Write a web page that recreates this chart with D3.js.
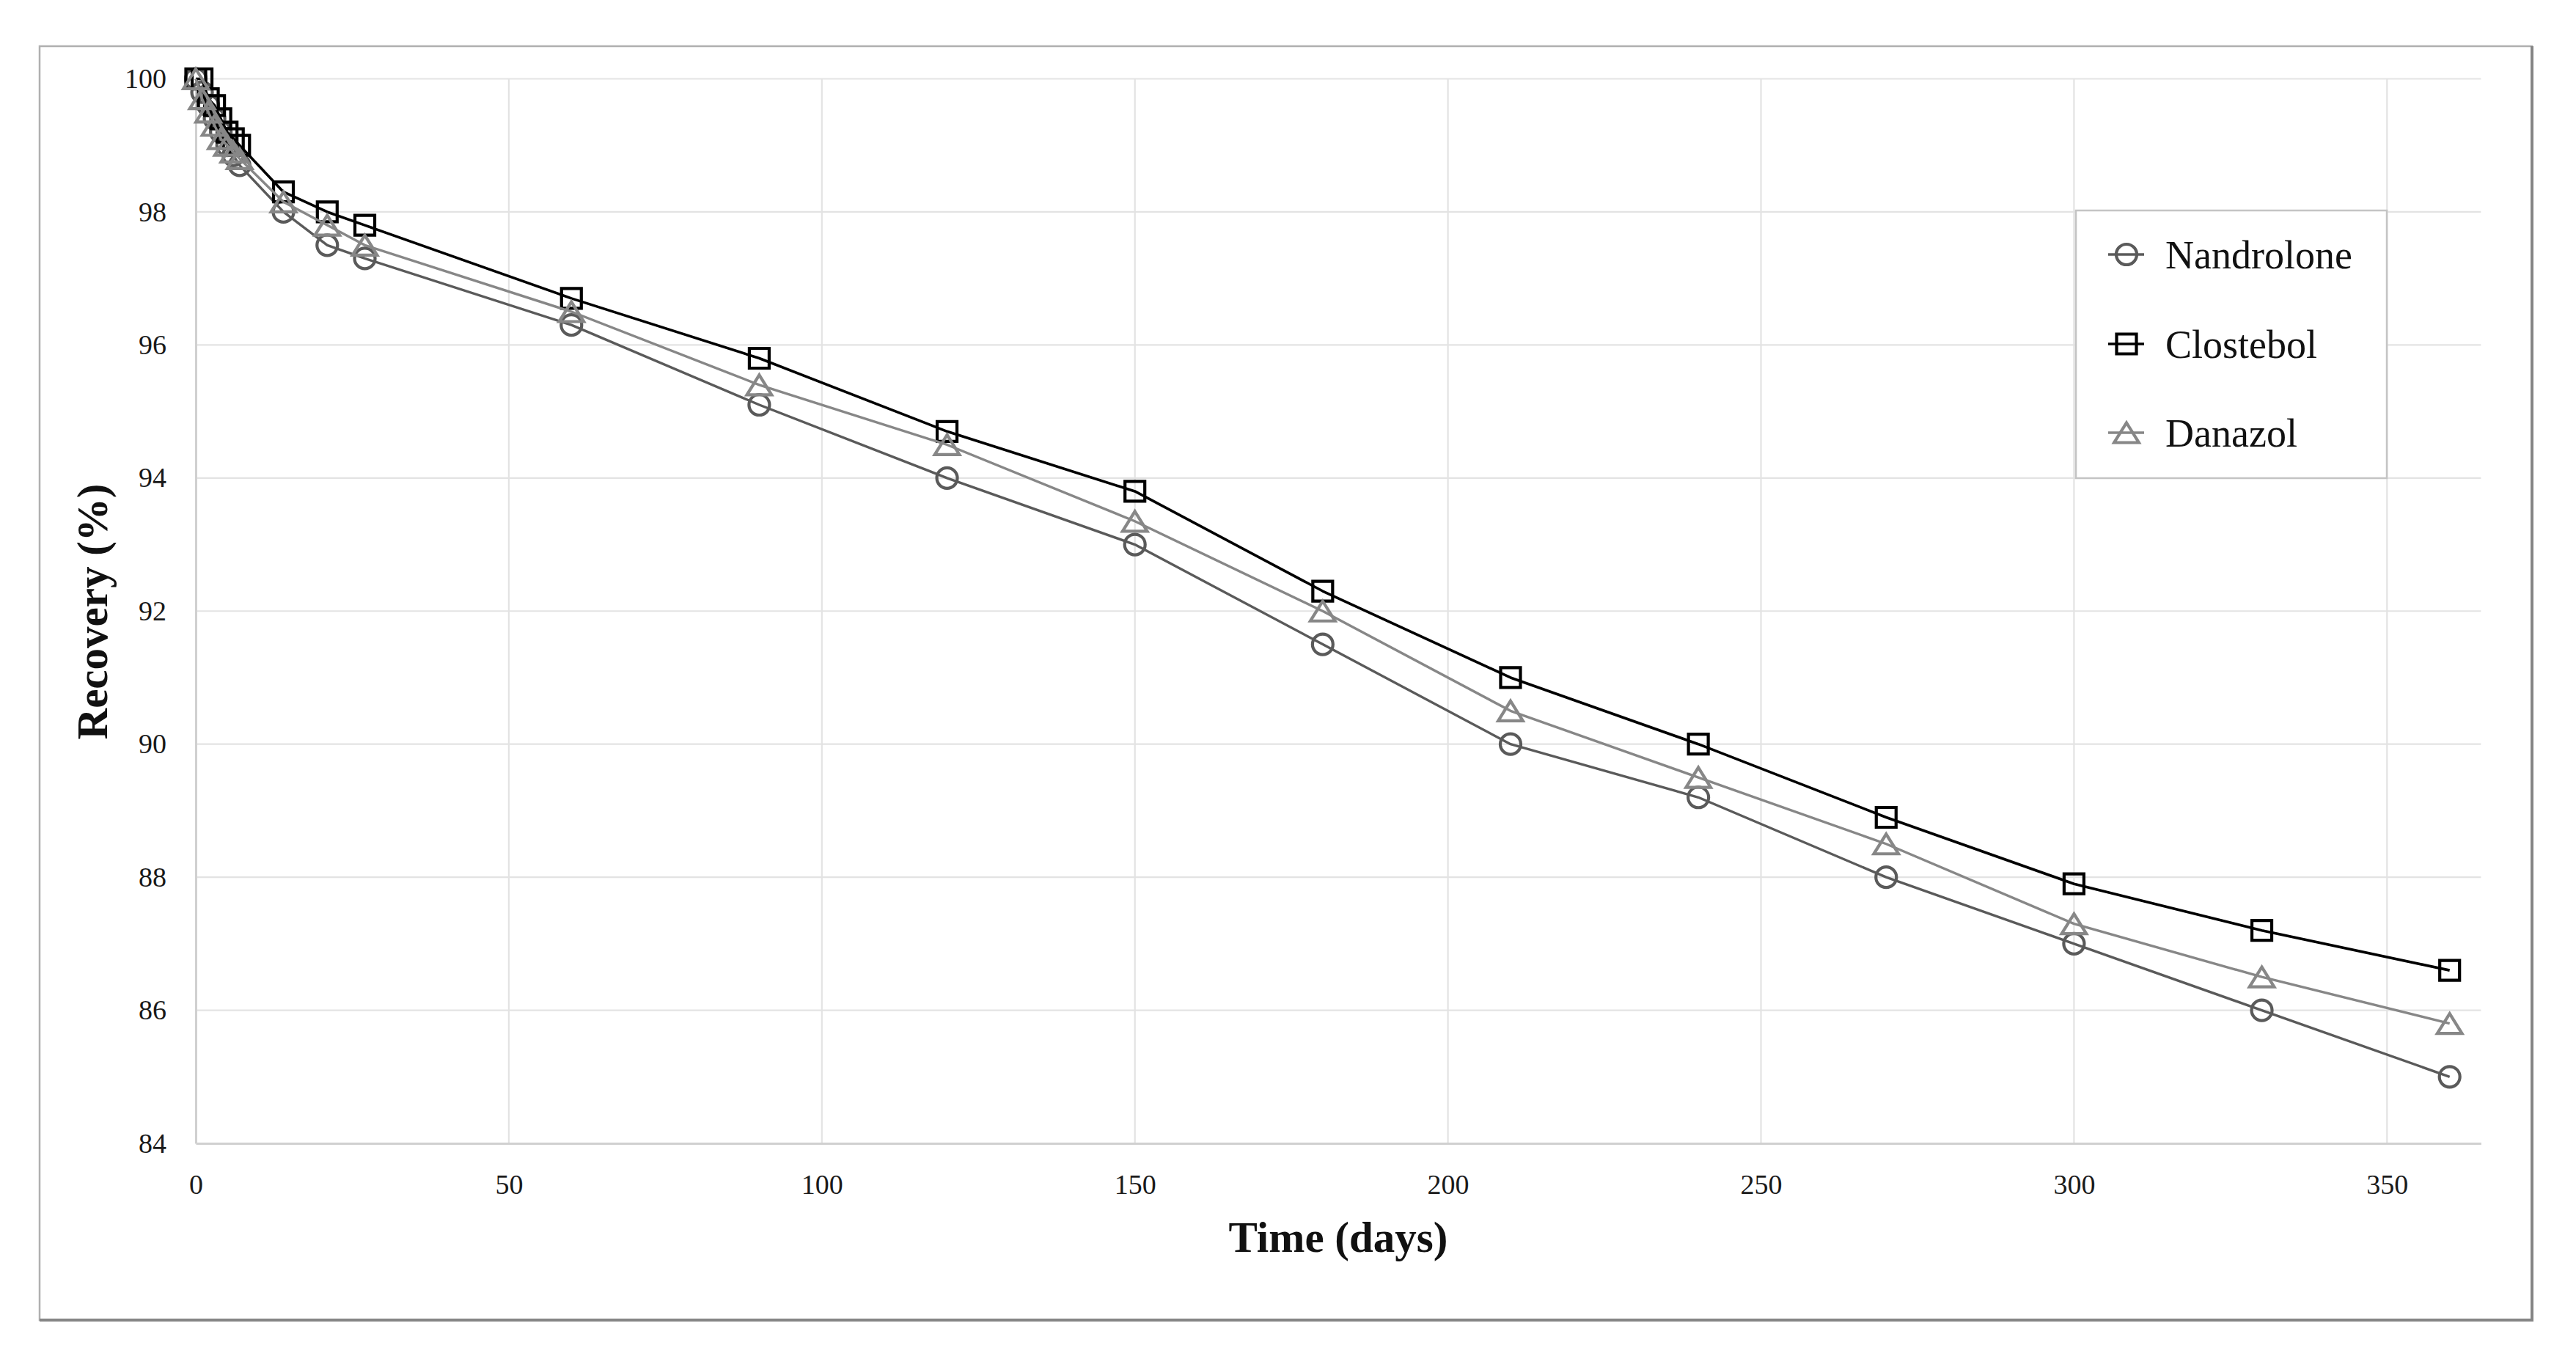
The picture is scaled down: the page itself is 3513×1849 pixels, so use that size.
<!DOCTYPE html>
<html>
<head>
<meta charset="utf-8">
<script src="https://cdnjs.cloudflare.com/ajax/libs/d3/7.8.5/d3.min.js"></script>
<style>
  html, body { margin: 0; padding: 0; background: #ffffff; }
  svg { display: block; }
</style>
</head>
<body>
<div id="chart"></div>
<script>
// ---- data ----
const days = [0, 1, 2, 3, 4, 5, 6, 7, 14, 21, 27, 60, 90, 120, 150, 180, 210, 240, 270, 300, 330, 360];
const nandrolone = [100, 99.8, 99.6, 99.4, 99.2, 99.0, 98.85, 98.7, 98.0, 97.5, 97.3, 96.3, 95.1, 94.0, 93.0, 91.5, 90.0, 89.2, 88.0, 87.0, 86.0, 85.0];
const clostebol  = [100, 100, 99.7, 99.6, 99.4, 99.2, 99.1, 99.0, 98.3, 98.0, 97.8, 96.7, 95.8, 94.7, 93.8, 92.3, 91.0, 90.0, 88.9, 87.9, 87.2, 86.6];
const danazol    = [100, 99.7, 99.5, 99.3, 99.1, 99.0, 98.9, 98.8, 98.15, 97.8, 97.5, 96.5, 95.4, 94.5, 93.35, 92.0, 90.5, 89.5, 88.5, 87.3, 86.5, 85.8];
const seriesNames = ["Nandrolone", "Clostebol", "Danazol"];
const xTicks = [0, 50, 100, 150, 200, 250, 300, 350];
const yTicks = [84, 86, 88, 90, 92, 94, 96, 98, 100];
const xTitle = "Time (days)";
const yTitle = "Recovery (%)";

// ---- layout ----
const W = 3513, H = 1849;
const svg = d3.select("#chart").append("svg").attr("width", W).attr("height", H);

const x = d3.scaleLinear().domain([0, 365]).range([267, 267 + 365 * 8.538]);
const y = d3.scaleLinear().domain([84, 100]).range([1559, 107.5]);

const serif = "'Liberation Serif', 'Times New Roman', serif";

// outer frame
svg.append("rect").attr("x", 54).attr("y", 63).attr("width", 3453 - 54).attr("height", 1800 - 63)
  .attr("fill", "#fff").attr("stroke", "#b0b0b0").attr("stroke-width", 2.5);
svg.append("line").attr("x1", 3453).attr("x2", 3453).attr("y1", 63).attr("y2", 1800)
  .attr("stroke", "#858585").attr("stroke-width", 4);
svg.append("line").attr("x1", 54).attr("x2", 3455).attr("y1", 1800).attr("y2", 1800)
  .attr("stroke", "#858585").attr("stroke-width", 4);

// gridlines
const grid = svg.append("g");
grid.selectAll(".hg").data(yTicks.filter(d => d !== 84)).join("line")
  .attr("x1", x(0)).attr("x2", x(365)).attr("y1", d => y(d)).attr("y2", d => y(d))
  .attr("stroke", "#e3e3e3").attr("stroke-width", 2.2);
grid.selectAll(".vg").data(xTicks.filter(d => d !== 0)).join("line")
  .attr("x1", d => x(d)).attr("x2", d => x(d)).attr("y1", y(84)).attr("y2", y(100))
  .attr("stroke", "#e3e3e3").attr("stroke-width", 2.2);

// axes via d3 axis (no tick marks, styled)
const xAxis = svg.append("g").attr("transform", `translate(0,${y(84)})`)
  .call(d3.axisBottom(x).tickValues(xTicks).tickSize(0).tickPadding(42).tickFormat(d3.format("d")));
xAxis.select(".domain").attr("stroke", "#d0d0d0").attr("stroke-width", 3);
xAxis.selectAll("text").attr("font-family", serif).attr("font-size", 38).attr("fill", "#1a1a1a");

const yAxis = svg.append("g").attr("transform", `translate(${x(0)},0)`)
  .call(d3.axisLeft(y).tickValues(yTicks).tickSize(0).tickPadding(40).tickFormat(d3.format("d")));
yAxis.select(".domain").attr("stroke", "#d0d0d0").attr("stroke-width", 3);
yAxis.selectAll("text").attr("font-family", serif).attr("font-size", 38).attr("fill", "#1a1a1a");

// axis titles
svg.append("text").attr("x", 1825).attr("y", 1707).attr("text-anchor", "middle")
  .attr("font-family", serif).attr("font-weight", "bold").attr("font-size", 59).attr("fill", "#111")
  .text(xTitle);
svg.append("text").attr("transform", "translate(146,834) rotate(-90)").attr("text-anchor", "middle")
  .attr("font-family", serif).attr("font-weight", "bold").attr("font-size", 59).attr("fill", "#111")
  .text(yTitle);

// marker shapes
function markerPath(shape, s) {
  const h = s / 2;
  if (shape === "circle") { const p = d3.path(); p.moveTo(h, 0); p.arc(0, 0, h, 0, 2 * Math.PI); p.closePath(); return p.toString(); }
  if (shape === "square") return `M${-h},${-h}H${h}V${h}H${-h}Z`;
  const th = s * 0.9;
  return `M0,${-th / 2}L${h * 1.12},${th / 2}L${-h * 1.12},${th / 2}Z`;
}

const series = [
  { name: seriesNames[0], values: nandrolone, color: "#5a5a5a", shape: "circle", lw: 3.4, ms: 28 },
  { name: seriesNames[1], values: clostebol, color: "#000000", shape: "square", lw: 3.6, ms: 27 },
  { name: seriesNames[2], values: danazol, color: "#878787", shape: "triangle", lw: 3.4, ms: 30 }
];

const line = d3.line().x(d => x(d[0])).y(d => y(d[1]));

series.forEach(s => {
  const pts = days.map((d, i) => [d, s.values[i]]);
  const g = svg.append("g");
  g.append("path").datum(pts).attr("d", line).attr("fill", "none")
    .attr("stroke", s.color).attr("stroke-width", s.lw).attr("stroke-linejoin", "round");
  g.selectAll("path.m").data(pts).join("path").attr("class", "m")
    .attr("transform", d => `translate(${x(d[0])},${y(d[1])})`)
    .attr("d", markerPath(s.shape, s.ms))
    .attr("fill", "none").attr("stroke", s.color).attr("stroke-width", 4.2);
});

// legend
const lg = svg.append("g");
lg.append("rect").attr("x", 2831).attr("y", 287).attr("width", 3255 - 2831).attr("height", 652 - 287)
  .attr("fill", "#fff").attr("stroke", "#c4c4c4").attr("stroke-width", 2.5);
const rowsY = [347, 469, 590];
series.forEach((s, i) => {
  const cy = rowsY[i];
  lg.append("line").attr("x1", 2875).attr("x2", 2924).attr("y1", cy).attr("y2", cy)
    .attr("stroke", s.color).attr("stroke-width", s.lw);
  lg.append("path").attr("transform", `translate(2900,${cy})`)
    .attr("d", markerPath(s.shape, s.ms))
    .attr("fill", "none").attr("stroke", s.color).attr("stroke-width", 4.2);
  lg.append("text").attr("x", 2953).attr("y", cy).attr("dy", "0.35em")
    .attr("font-family", serif).attr("font-size", 54).attr("fill", "#111").text(s.name);
});
</script>
</body>
</html>
